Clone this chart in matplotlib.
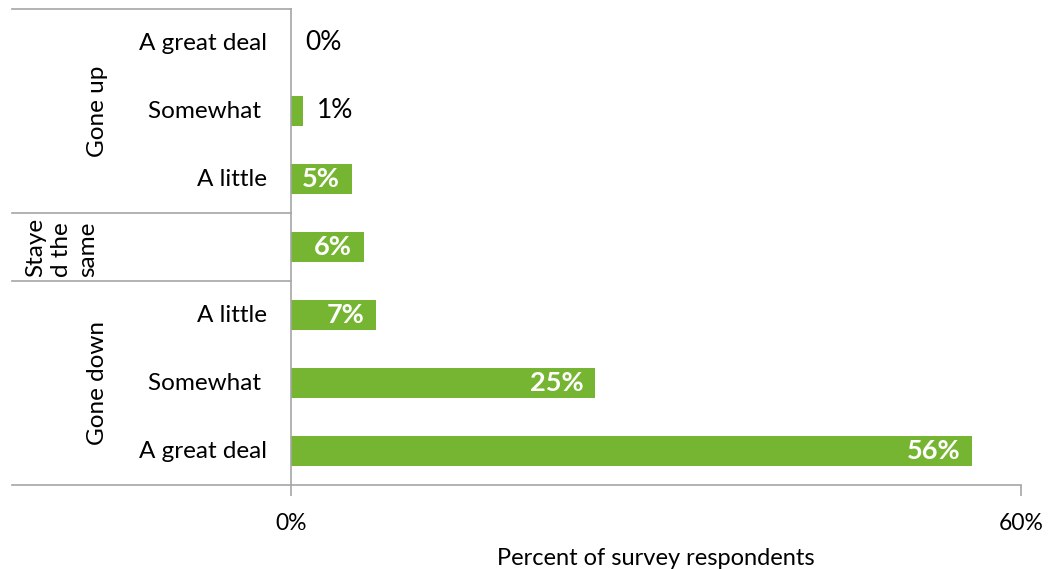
import matplotlib
matplotlib.use('Agg')
from matplotlib import pyplot as plt

plt.rcParams['font.family'] = ['Lato', 'DejaVu Sans']

# survey answers, top row first
levels = ['A great deal', 'Somewhat ', 'A little', '', 'A little', 'Somewhat ', 'A great deal']
values = [0, 1, 5, 6, 7, 25, 56]
groups = ['Gone up', 'Staye\nd the\nsame', 'Gone down']
group_rows = [(0, 2), (3, 3), (4, 6)]
xticks = [0, 60]
xticklabels = ['0%', '60%']

green = '#76b531'
grey = '#a6a6a6'

fig = plt.figure(figsize=(10.48, 5.69), dpi=100)
ax = fig.add_axes([291 / 1048, 84 / 569, 730 / 1048, 476 / 569])

rows = list(range(len(values)))
ax.barh(rows, values, height=0.44, color=green)
ax.set_ylim(6.5, -0.5)
ax.set_xlim(0, 60)

for r, v in zip(rows, values):
    if v >= 5:
        ax.annotate('%d%%' % v, (v, r), xytext=(-12, 0), textcoords='offset pixels',
                    ha='right', va='center', color='white', fontweight='bold', fontsize=19.5)
    else:
        ax.annotate('%d%%' % v, (v, r), xytext=(14, 0), textcoords='offset pixels',
                    ha='left', va='center', color='black', fontsize=19)

# category axis: inner level labels
ax.set_yticks([])
for r, name in zip(rows, levels):
    if name:
        ax.text(-24 / 730, r, name, transform=ax.get_yaxis_transform(),
                ha='right', va='center', fontsize=17.5)

# outer level labels and separators
left = -(291 - 12) / 730
tr = ax.get_yaxis_transform()
for name, (a, b) in zip(groups, group_rows):
    mid = (a + b) / 2
    if '\n' in name:
        ax.text(-229 / 730, mid, name, transform=tr, rotation=90, ha='center',
                va='center', multialignment='left', fontsize=17.5, linespacing=1.3)
    else:
        ax.text(-194 / 730, mid, name, transform=tr, rotation=90, ha='center',
                va='center', fontsize=17.5)
for y in [-0.5, 2.5, 3.5, 6.5]:
    ax.plot([left, 0], [y, y], transform=tr, color=grey, lw=1.2, clip_on=False)

for s in ['top', 'right']:
    ax.spines[s].set_visible(False)
for s in ['left', 'bottom']:
    ax.spines[s].set_color(grey)
    ax.spines[s].set_linewidth(1.2)

ax.set_xticks(xticks)
ax.set_xticklabels(xticklabels, fontsize=16.5)
ax.tick_params(axis='x', direction='out', length=8, width=1.2, color=grey, pad=12)
ax.set_xlabel('Percent of survey respondents', fontsize=17, labelpad=10)

fig.savefig('out.png', dpi=100)
